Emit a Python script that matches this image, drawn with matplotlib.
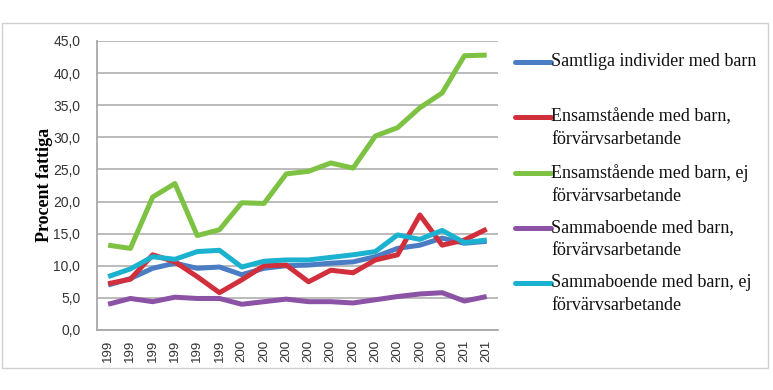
import matplotlib
matplotlib.use('Agg')
import matplotlib.pyplot as plt
from matplotlib.lines import Line2D
from matplotlib.patches import Rectangle
import numpy as np

years = ['199'] * 6 + ['200'] * 10 + ['201'] * 2

samtliga = [7.0, 8.0, 9.6, 10.4, 9.6, 9.8, 8.6, 9.6, 10.0, 10.1, 10.4, 10.6, 11.4, 12.7, 13.2, 14.3, 13.5, 13.8]
ens_arb = [7.2, 7.9, 11.7, 10.6, 8.3, 5.8, 7.8, 10.0, 10.1, 7.5, 9.3, 8.9, 10.9, 11.7, 17.9, 13.2, 14.0, 15.7]
ens_ej = [13.2, 12.7, 20.7, 22.8, 14.7, 15.6, 19.8, 19.7, 24.3, 24.7, 26.0, 25.2, 30.2, 31.5, 34.6, 36.9, 42.7, 42.8]
samm_arb = [4.0, 4.9, 4.4, 5.1, 4.9, 4.9, 4.0, 4.4, 4.8, 4.4, 4.4, 4.2, 4.7, 5.2, 5.6, 5.8, 4.5, 5.2]
samm_ej = [8.3, 9.5, 11.4, 11.0, 12.2, 12.4, 9.8, 10.7, 10.9, 10.9, 11.3, 11.7, 12.2, 14.8, 14.1, 15.5, 13.6, 14.0]

series = [
    ('Samtliga individer med barn', samtliga, '#4a7dc4'),
    ('Ensamstående med barn,\nförvärvsarbetande', ens_arb, '#d22f3c'),
    ('Ensamstående med barn, ej\nförvärvsarbetande', ens_ej, '#7dc242'),
    ('Sammaboende med barn,\nförvärvsarbetande', samm_arb, '#8b52a5'),
    ('Sammaboende med barn, ej\nförvärvsarbetande', samm_ej, '#1bb2d0'),
]

fig = plt.figure(figsize=(7.73, 3.9), dpi=100)
ax = fig.add_axes([0.1255, 0.154, 0.5185, 0.741])

x = np.arange(len(years))
for label, vals, col in series:
    ax.plot(x, vals, color=col, linewidth=3.6, solid_capstyle='butt')

ax.set_xlim(-0.5, len(years) - 0.5)
ax.set_ylim(0, 45)
ax.set_yticks(np.arange(0, 46, 5))
ax.set_yticklabels([f'{v:.1f}'.replace('.', ',') for v in np.arange(0, 46, 5)],
                   fontsize=10, family='Liberation Sans', color='#333333')
ax.set_xticks(x)
ax.set_xticklabels(years, rotation=90, fontsize=9.5, family='Liberation Sans', color='#333333')
ax.tick_params(axis='both', length=0)
ax.tick_params(axis='y', pad=12)
ax.tick_params(axis='x', pad=7)
ax.grid(axis='y', color='#b5b5b5', linewidth=1.3)
ax.set_axisbelow(True)
for s in ['top', 'right']:
    ax.spines[s].set_visible(False)
for s in ['left', 'bottom']:
    ax.spines[s].set_color('#a8a8a8')
    ax.spines[s].set_linewidth(1.3)

fig.text(0.058, 0.525, 'Procent fattiga', rotation=90, ha='center', va='center',
         fontsize=13, fontweight='bold', family='Liberation Serif')

# legend drawn by hand so the line sits on the first text line
W, H = 773, 390
entry_y = [62, 117, 173, 228, 283]
for (label, vals, col), yy in zip(series, entry_y):
    fy = 1 - yy / H
    fig.add_artist(Line2D([515 / W, 551 / W], [fy, fy], color=col, linewidth=3.6,
                          solid_capstyle='round', transform=fig.transFigure))
    fig.text(551 / W, fy + 9 / H, label, ha='left', va='top', fontsize=13,
             family='Liberation Serif', color='#111111', linespacing=1.45)

fig.add_artist(Rectangle((2 / W, 1 - 368 / H), 766 / W, 345 / H, fill=False,
                         edgecolor='#d0d0d0', linewidth=1, transform=fig.transFigure))

fig.savefig('out.png', dpi=100)
